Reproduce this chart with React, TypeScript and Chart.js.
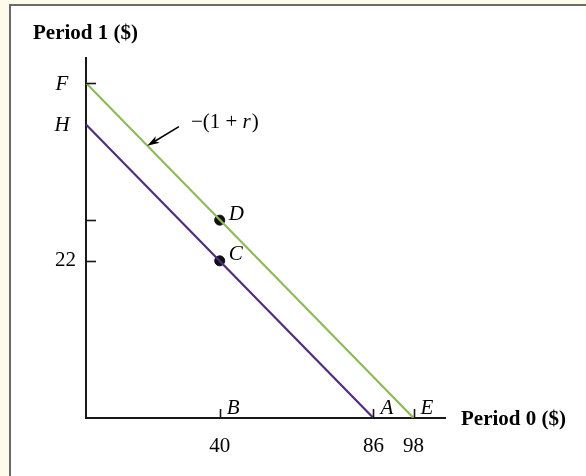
import React, { useEffect, useRef } from "react";
import { Chart, registerables } from "chart.js";

Chart.register(...registerables);

// ---- data ----
const xTickValues = [40, 86, 98];
const xTickLabels = ["40", "86", "98"];
const xTickLetters = ["B", "A", "E"];
const yTickValues = [22, 27.7, 46.9];
const yTickLabels = ["22", "", ""];
const yLetterValues = [41.1, 46.9];
const yLetters = ["H", "F"];
const lineAX = [0, 86];
const lineAY = [41.1, 0];
const lineEX = [0, 98];
const lineEY = [46.9, 0];
const pointX = [40, 40];
const pointY = [22, 27.7];
const pointLabels = ["C", "D"];
const slopeArrowFrom = [27.8, 40.8];
const slopeArrowTo = [18.3, 38.1];
const xTitle = "Period 0 ($)";
const yTitle = "Period 1 ($)";
const xMax = 107.4;
const yMax = 50.4;

const SERIF = "'Liberation Serif', 'DejaVu Serif', serif";
const INK = "#000000";
const AXIS = "#1a1718";
const GREEN = "#8dbb5a";
const PURPLE = "#4e2c82";
const FS = 21;

const decorPlugin = {
  id: "decor",
  beforeDraw(chart: any) {
    const { ctx, width, height } = chart;
    ctx.save();
    ctx.fillStyle = "#fffbea";
    ctx.fillRect(0, 0, width, height);
    ctx.fillStyle = "#ffffff";
    ctx.fillRect(11, 6, width - 11, height - 6);
    ctx.fillStyle = "#6a6a6a";
    ctx.fillRect(9, 4, 2, height - 4);
    ctx.fillRect(9, 4, width - 9, 2);
    ctx.restore();
  },
  afterDraw(chart: any) {
    const { ctx, chartArea } = chart;
    const xs = chart.scales.x;
    const ys = chart.scales.y;
    ctx.save();
    ctx.strokeStyle = AXIS;
    ctx.lineWidth = 1.6;
    // y tick marks (inside)
    yTickValues.forEach((v) => {
      const py = Math.round(ys.getPixelForValue(v)) + 0.5;
      ctx.beginPath();
      ctx.moveTo(chartArea.left, py);
      ctx.lineTo(chartArea.left + 10, py);
      ctx.stroke();
    });
    // x tick marks (inside)
    xTickValues.forEach((v) => {
      const px = Math.round(xs.getPixelForValue(v)) + 0.5;
      ctx.beginPath();
      ctx.moveTo(px, chartArea.bottom);
      ctx.lineTo(px, chartArea.bottom - 9);
      ctx.stroke();
    });
    ctx.fillStyle = INK;
    ctx.strokeStyle = INK;
    ctx.font = `italic ${FS}px ${SERIF}`;
    ctx.textBaseline = "middle";
    // y letters
    ctx.textAlign = "center";
    yLetters.forEach((l, i) => {
      const py = ys.getPixelForValue(yLetterValues[i]);
      ctx.fillText(l, 62, py + 1.5);
    });
    // x letters
    ctx.textAlign = "left";
    xTickLetters.forEach((l, i) => {
      const px = xs.getPixelForValue(xTickValues[i]);
      ctx.fillText(l, px + 7, chartArea.bottom - 10);
    });
    // point letters
    pointLabels.forEach((l, i) => {
      const px = xs.getPixelForValue(pointX[i]);
      const py = ys.getPixelForValue(pointY[i]);
      ctx.fillText(l, px + 9, py - 6);
    });
    // arrow
    const ax0 = xs.getPixelForValue(slopeArrowFrom[0]);
    const ay0 = ys.getPixelForValue(slopeArrowFrom[1]);
    const ax1 = xs.getPixelForValue(slopeArrowTo[0]);
    const ay1 = ys.getPixelForValue(slopeArrowTo[1]);
    ctx.lineWidth = 1.6;
    const ang = Math.atan2(ay1 - ay0, ax1 - ax0);
    const hl = 13;
    const hw = 0.3;
    ctx.beginPath();
    ctx.moveTo(ax0, ay0);
    ctx.lineTo(ax1 - 6 * Math.cos(ang), ay1 - 6 * Math.sin(ang));
    ctx.stroke();
    ctx.beginPath();
    ctx.moveTo(ax1, ay1);
    ctx.lineTo(ax1 - hl * Math.cos(ang - hw), ay1 - hl * Math.sin(ang - hw));
    ctx.lineTo(ax1 - hl * 0.7 * Math.cos(ang), ay1 - hl * 0.7 * Math.sin(ang));
    ctx.lineTo(ax1 - hl * Math.cos(ang + hw), ay1 - hl * Math.sin(ang + hw));
    ctx.closePath();
    ctx.fill();
    // slope label
    let tx = ax0 + 12;
    const ty = ay0 - 4;
    ctx.font = `${FS}px ${SERIF}`;
    const p1 = "\u2212(1 + ";
    ctx.fillText(p1, tx, ty);
    tx += ctx.measureText(p1).width;
    ctx.font = `italic ${FS}px ${SERIF}`;
    ctx.fillText("r", tx, ty);
    tx += ctx.measureText("r").width + 1;
    ctx.font = `${FS}px ${SERIF}`;
    ctx.fillText(")", tx, ty);
    // titles
    ctx.font = `bold ${FS}px ${SERIF}`;
    ctx.textAlign = "left";
    ctx.fillText(yTitle, 33, 34);
    ctx.fillText(xTitle, chartArea.right + 16, chartArea.bottom + 2);
    ctx.restore();
  },
};

export default function App() {
  const ref = useRef<HTMLCanvasElement | null>(null);
  useEffect(() => {
    document.body.style.margin = "0";
    const canvas = ref.current;
    if (!canvas) return;
    const chart = new Chart(canvas, {
      type: "scatter",
      data: {
        datasets: [
          {
            label: "E",
            data: lineEX.map((x, i) => ({ x, y: lineEY[i] })),
            showLine: true,
            borderColor: GREEN,
            borderWidth: 2.2,
            pointRadius: 0,
          },
          {
            label: "A",
            data: lineAX.map((x, i) => ({ x, y: lineAY[i] })),
            showLine: true,
            borderColor: PURPLE,
            borderWidth: 2.2,
            pointRadius: 0,
          },
          {
            label: "points",
            data: pointX.map((x, i) => ({ x, y: pointY[i] })),
            showLine: false,
            pointRadius: 5,
            backgroundColor: "#111",
            borderColor: "#111",
            borderWidth: 1,
          },
        ],
      },
      options: {
        responsive: false,
        animation: false,
        devicePixelRatio: 1,
        layout: { padding: { top: 58, right: 141, left: 0, bottom: 0 } },
        plugins: { legend: { display: false }, tooltip: { enabled: false } },
        scales: {
          x: {
            type: "linear",
            min: 0,
            max: xMax,
            grid: { display: false },
            border: { display: true, color: AXIS, width: 2 },
            afterFit: (s: any) => {
              s.height = 58;
            },
            afterBuildTicks: (s: any) => {
              s.ticks = xTickValues.map((v) => ({ value: v }));
            },
            ticks: {
              autoSkip: false,
              maxRotation: 0,
              padding: 8,
              color: INK,
              font: { family: SERIF, size: FS },
              callback: (v: any) => {
                const i = xTickValues.indexOf(Number(v));
                return i >= 0 ? xTickLabels[i] : "";
              },
            },
          },
          y: {
            type: "linear",
            min: 0,
            max: yMax,
            grid: { display: false },
            border: { display: true, color: AXIS, width: 2 },
            afterFit: (s: any) => {
              s.width = 86;
            },
            afterBuildTicks: (s: any) => {
              s.ticks = yTickValues.map((v) => ({ value: v }));
            },
            ticks: {
              autoSkip: false,
              padding: 2,
              color: INK,
              font: { family: SERIF, size: FS },
              callback: (v: any) => {
                const i = yTickValues.indexOf(Number(v));
                return i >= 0 ? yTickLabels[i] : "";
              },
            },
          },
        },
      },
      plugins: [decorPlugin],
    } as any);
    return () => chart.destroy();
  }, []);
  return <canvas ref={ref} width={586} height={476} style={{ display: "block" }} />;
}
